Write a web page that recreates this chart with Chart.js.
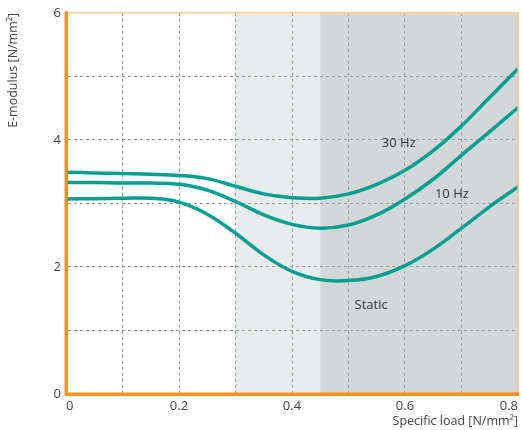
<!DOCTYPE html>
<html>
<head>
<meta charset="utf-8">
<script src="https://cdn.jsdelivr.net/npm/chart.js@4"></script>
<style>
  html, body { margin: 0; padding: 0; background: #ffffff; }
  #wrap { width: 522px; height: 430px; position: relative; }
</style>
</head>
<body>
<div id="wrap"><canvas id="c" width="522" height="430"></canvas></div>
<script>
// ---- data ----
const loads = [0, 0.05, 0.1, 0.15, 0.2, 0.25, 0.3, 0.35, 0.4, 0.45, 0.5, 0.55, 0.6, 0.65, 0.7, 0.75, 0.8];
const hz30   = [3.49, 3.48, 3.47, 3.46, 3.44, 3.39, 3.27, 3.15, 3.09, 3.08, 3.15, 3.30, 3.52, 3.83, 4.22, 4.67, 5.12];
const hz10   = [3.33, 3.33, 3.32, 3.32, 3.30, 3.21, 3.03, 2.82, 2.67, 2.61, 2.66, 2.82, 3.07, 3.38, 3.76, 4.13, 4.51];
const stat   = [3.07, 3.075, 3.08, 3.08, 3.02, 2.83, 2.53, 2.19, 1.93, 1.80, 1.785, 1.85, 2.02, 2.28, 2.61, 2.95, 3.26];
const seriesNames = ["30 Hz", "10 Hz", "Static"];
const labelX = [0.589, 0.683, 0.54];
const labelY = [3.95, 3.14, 1.40];
const bandLight = [0.3, 0.45];
const bandDark = [0.45, 0.8];
const xTickLabels = ["0", "0.2", "0.4", "0.6", "0.8"];
const yTickLabels = ["0", "2", "4", "6"];
const xTitle = "Specific load [N/mm²]";
const yTitle = "E-modulus [N/mm²]";

const TEAL = "#00a091";
const ORANGE = "#f7941d";
const FONT = "'Open Sans', 'DejaVu Sans', sans-serif";

function pts(ys) { return loads.map((x, i) => ({ x: x, y: ys[i] })); }

const bgPlugin = {
  id: 'bands',
  beforeDraw(chart) {
    const { ctx, chartArea, scales } = chart;
    const xs = scales.x;
    ctx.save();
    ctx.fillStyle = "#e8ebec";
    ctx.fillRect(xs.getPixelForValue(bandLight[0]), chartArea.top,
      xs.getPixelForValue(bandLight[1]) - xs.getPixelForValue(bandLight[0]), chartArea.bottom - chartArea.top);
    ctx.fillStyle = "#d4d7da";
    ctx.fillRect(xs.getPixelForValue(bandDark[0]), chartArea.top,
      xs.getPixelForValue(bandDark[1]) - xs.getPixelForValue(bandDark[0]), chartArea.bottom - chartArea.top);
    ctx.restore();
  },
  afterDatasetsDraw(chart) {
    const { ctx, chartArea, scales } = chart;
    ctx.save();
    ctx.strokeStyle = "#fcd3a0";
    ctx.lineWidth = 2;
    ctx.beginPath();
    ctx.moveTo(chartArea.left, chartArea.top);
    ctx.lineTo(chartArea.right, chartArea.top);
    ctx.stroke();
    ctx.strokeStyle = "#f9c07e";
    ctx.lineWidth = 1.5;
    ctx.beginPath();
    ctx.moveTo(chartArea.right, chartArea.top);
    ctx.lineTo(chartArea.right, chartArea.bottom);
    ctx.stroke();
    ctx.strokeStyle = ORANGE;
    ctx.lineWidth = 3;
    ctx.beginPath();
    ctx.moveTo(chartArea.left, chartArea.top - 1);
    ctx.lineTo(chartArea.left, chartArea.bottom);
    ctx.lineTo(chartArea.right + 1, chartArea.bottom);
    ctx.stroke();
    ctx.fillStyle = "#333333";
    ctx.font = "13px " + FONT;
    ctx.textAlign = "center";
    ctx.textBaseline = "middle";
    for (let i = 0; i < seriesNames.length; i++) {
      ctx.fillText(seriesNames[i], scales.x.getPixelForValue(labelX[i]), scales.y.getPixelForValue(labelY[i]));
    }
    ctx.restore();
  }
};

const ds = (name, ys) => ({
  label: name,
  data: pts(ys),
  borderColor: TEAL,
  borderWidth: 3.5,
  pointRadius: 0,
  fill: false,
  tension: 0.4,
  clip: 0
});

new Chart(document.getElementById('c'), {
  type: 'line',
  data: { datasets: [ds(seriesNames[0], hz30), ds(seriesNames[1], hz10), ds(seriesNames[2], stat)] },
  options: {
    responsive: false,
    animation: false,
    devicePixelRatio: 1,
    layout: { padding: { top: 10, right: 2, left: 0, bottom: 0 } },
    plugins: { legend: { display: false }, tooltip: { enabled: false } },
    scales: {
      x: {
        type: 'linear', min: 0, max: 0.8,
        afterFit(s) { s.height = 36; },
        afterBuildTicks(s) {
          const t = [];
          for (let i = 0; i <= 8; i++) t.push({ value: i / 10 });
          s.ticks = t;
        },
        ticks: {
          align: 'inner',
          padding: 4,
          color: "#444444",
          font: { family: FONT, size: 13 },
          maxRotation: 0,
          autoSkip: false,
          callback(v) {
            const k = Math.round(v * 10);
            return (k % 2 === 0) ? xTickLabels[k / 2] : '';
          }
        },
        grid: {
          drawTicks: false,
          color(c) { const k = Math.round(c.tick.value * 10); return (k === 0 || k === 8) ? 'rgba(0,0,0,0)' : '#9a9a9a'; },
          lineWidth: 1
        },
        border: { display: true, color: ORANGE, width: 3, dash: [3, 3] },
        title: {
          display: true, text: xTitle, align: 'end', color: "#444444",
          font: { family: FONT, size: 12.5 }, padding: { top: 0, bottom: 1 }
        }
      },
      y: {
        type: 'linear', min: 0, max: 6,
        afterFit(s) { s.width = 66; },
        ticks: {
          stepSize: 1,
          padding: 5,
          color: "#444444",
          font: { family: FONT, size: 13 },
          callback(v) { return (v % 2 === 0) ? yTickLabels[v / 2] : ''; }
        },
        grid: {
          drawTicks: false,
          color(c) { const v = c.tick.value; return (v === 0 || v === 6) ? 'rgba(0,0,0,0)' : '#9a9a9a'; },
          lineWidth: 1
        },
        border: { display: true, color: ORANGE, width: 3, dash: [3, 3] },
        title: {
          display: true, text: yTitle, align: 'end', color: "#444444",
          font: { family: FONT, size: 12.5 }, padding: { top: 6, bottom: 0 }
        }
      }
    }
  },
  plugins: [bgPlugin]
});
</script>
</body>
</html>
